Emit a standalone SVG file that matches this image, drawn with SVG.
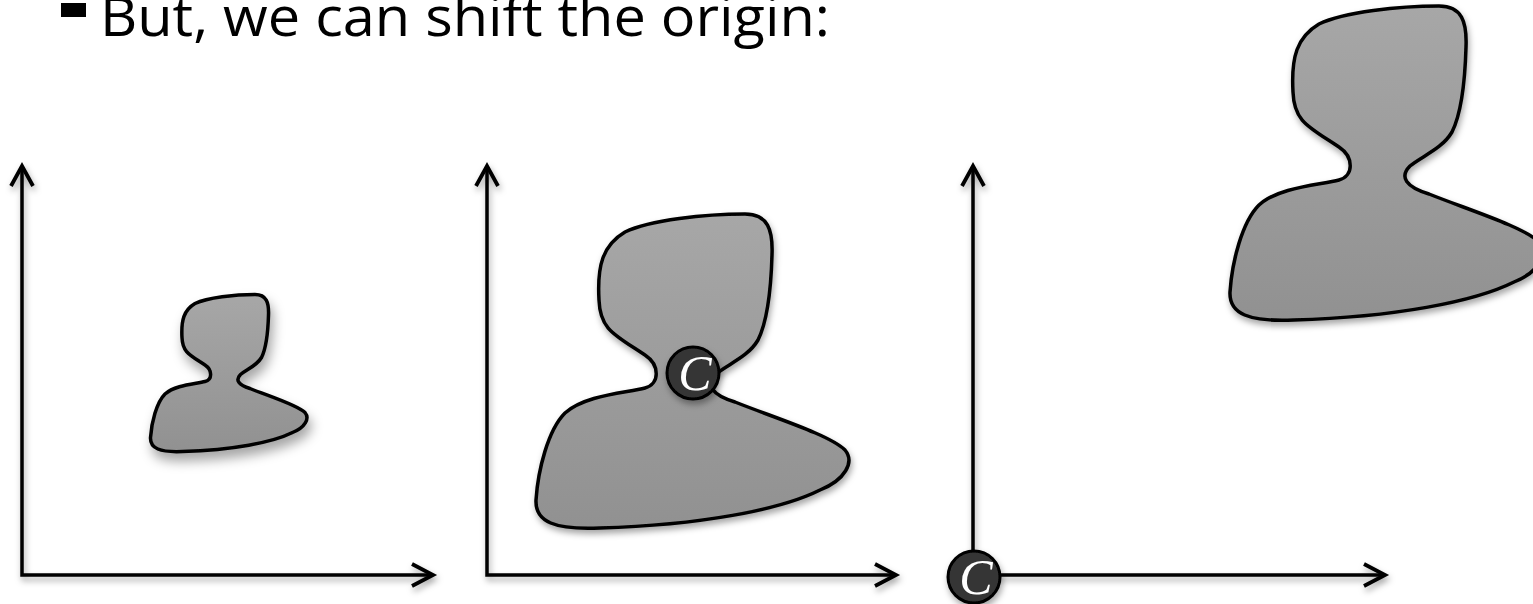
<svg xmlns="http://www.w3.org/2000/svg" width="1533" height="604" viewBox="0 0 1533 604">
<style>
.axis{fill:none;stroke:#000;stroke-width:3.5;stroke-linecap:butt;stroke-linejoin:miter}
.head{fill:none;stroke:#000;stroke-width:3.8;stroke-linejoin:miter}
.blob{fill:url(#gray);stroke:#000;stroke-linejoin:round}
.dot{fill:#363636;stroke:#000;stroke-width:3}
.clab{font-family:"Liberation Serif",serif;font-style:italic;font-size:50px;fill:#fff;text-anchor:middle}
.title{font-family:"Open Sans","Liberation Sans",sans-serif;font-size:55px;fill:#000}
</style>
<defs>
<linearGradient id="gray" x1="0" y1="0" x2="0" y2="1">
<stop offset="0" stop-color="#a7a7a7"/>
<stop offset="1" stop-color="#919191"/>
</linearGradient>
<filter id="sh" x="-20%" y="-20%" width="140%" height="140%">
<feDropShadow dx="1.5" dy="4" stdDeviation="3" flood-color="#000" flood-opacity="0.35"/>
</filter>
<filter id="shs" x="-20%" y="-20%" width="140%" height="140%">
<feDropShadow dx="3" dy="8" stdDeviation="6" flood-color="#000" flood-opacity="0.35"/>
</filter>
<path id="blobpath" d="M 599,300 C 597,265 603,245 625,232 C 650,220 705,214 745,214 C 768,214 773,230 772,255 C 771,290 768,320 758,340 C 748,357 728,364 716,374 C 705,385 712,395 735,402 C 775,418 830,435 845,450 C 855,462 845,480 820,490 C 780,510 700,525 600,528 C 555,530 535,522 536,500 C 538,470 548,430 565,413 C 585,395 625,393 645,388 C 660,384 660,365 645,355 C 615,335 600,330 599,300 Z"/>
</defs>

<g id="title">
<rect x="61" y="3" width="25" height="14" fill="#000"/>
<text class="title" x="100" y="36" textLength="730" lengthAdjust="spacingAndGlyphs">But, we can shift the origin:</text>
</g>

<g id="connectors" filter="url(#sh)">
<path class="axis" d="M22,167 V575 H431"/>
<path class="head" d="M11,186 L22,166 L33,186"/>
<path class="head" d="M412,564 L433,575 L412,586"/>
<path class="axis" d="M487,167 V575 H894"/>
<path class="head" d="M476,186 L487,166 L498,186"/>
<path class="head" d="M875,564 L896,575 L875,586"/>
<path class="axis" d="M973,167 V575 H1383"/>
<path class="head" d="M962,186 L973,166 L984,186"/>
<path class="head" d="M1364,564 L1385,575 L1364,586"/>
</g>

<g id="shape-small" filter="url(#shs)">
<use href="#blobpath" class="blob" stroke-width="7" transform="translate(-117.5,187.5) scale(0.5)"/>
</g>

<g id="shape-mid" filter="url(#sh)">
<use href="#blobpath" class="blob" stroke-width="3.5"/>
</g>

<g id="center-mid" filter="url(#sh)">
<circle class="dot" cx="693" cy="373" r="26"/>
<text class="clab" x="695" y="390">C</text>
</g>

<g id="shape-large" filter="url(#sh)">
<use href="#blobpath" class="blob" stroke-width="3.5" transform="translate(694,-208)"/>
</g>

<g id="center-origin" filter="url(#sh)">
<circle class="dot" cx="974" cy="577" r="26"/>
<text class="clab" x="976" y="594">C</text>
</g>
</svg>
